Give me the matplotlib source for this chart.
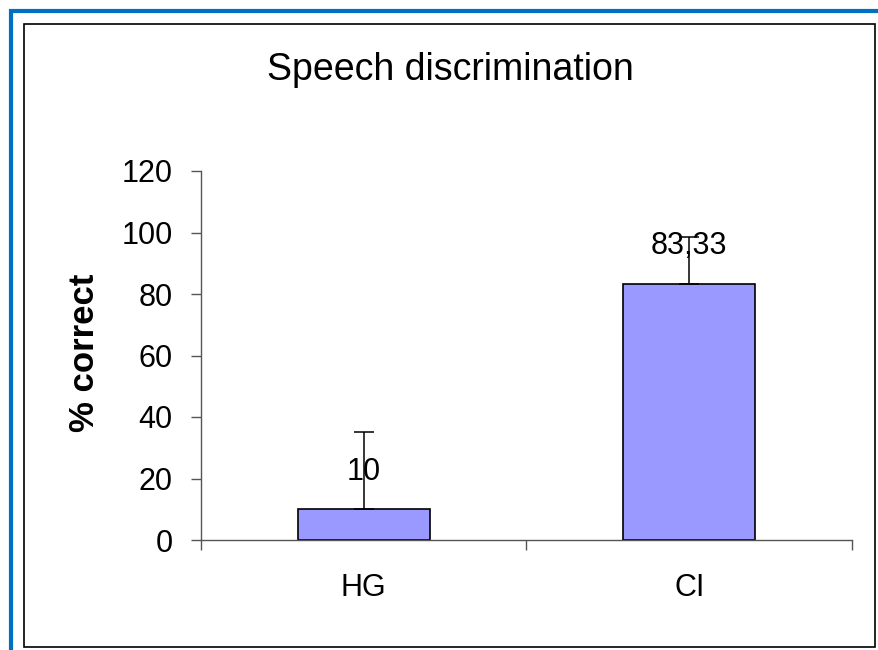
import matplotlib
matplotlib.use("Agg")
import matplotlib.pyplot as plt
from matplotlib.lines import Line2D
from matplotlib.patches import Rectangle

plt.rcParams['font.family'] = ['Liberation Sans', 'DejaVu Sans']

groups = ["HG", "CI"]
scores = [10, 83.33]
err_up = [25, 15.3]
value_labels = ["10", "83,33"]
title = "Speech discrimination"
y_label = "% correct"
y_ticks = [0, 20, 40, 60, 80, 100, 120]

W, H = 879, 650
fig = plt.figure(figsize=(W / 100, H / 100), dpi=100)

# frame: blue line top/left, black box inside
fig.add_artist(Line2D([11 / W, 11 / W, 1.0], [0.0, 1 - 11 / H, 1 - 11 / H],
                      transform=fig.transFigure, color="#0070C0", lw=3.0,
                      solid_joinstyle="miter"))
fig.add_artist(Rectangle((24.5 / W, 1 - 646.5 / H), (875.5 - 24.5) / W, (646.5 - 23.5) / H,
                         transform=fig.transFigure, fill=False, edgecolor="black", lw=1.2))

ax = fig.add_axes([201 / W, 1 - 540 / H, (852 - 201) / W, (540 - 171) / H])
x = list(range(len(groups)))
ax.bar(x, scores, width=0.405, color="#9999FF", edgecolor="black", linewidth=1.2, zorder=2)
ax.errorbar(x, scores, yerr=[[0] * len(err_up), err_up], fmt="none", ecolor="black",
            elinewidth=1.1, capsize=7, capthick=1.1, zorder=3)

for xi, v, lab in zip(x, scores, value_labels):
    ax.annotate(lab, (xi, v), xytext=(0, 27), textcoords="offset points",
                ha="center", va="center", fontsize=22, zorder=4)

ax.set_xlim(-0.5, len(groups) - 0.5)
ax.set_ylim(0, 120)
ax.set_yticks(y_ticks)
ax.set_yticklabels([str(t) for t in y_ticks])
ax.set_xticks([i - 0.5 for i in range(len(groups) + 1)])
ax.set_xticklabels([])
ax.set_xticks(x, minor=True)
ax.set_xticklabels(groups, minor=True)
ax.tick_params(axis="x", which="major", direction="out", length=7.5, width=1, color="#555555")
ax.tick_params(axis="x", which="minor", length=0, pad=24, labelsize=22)
ax.tick_params(axis="y", direction="out", length=7.5, width=1, color="#555555",
               pad=13, labelsize=22)

for s in ["top", "right"]:
    ax.spines[s].set_visible(False)
for s in ["left", "bottom"]:
    ax.spines[s].set_color("#555555")
    ax.spines[s].set_linewidth(1.0)

fig.text(84 / W, 1 - 353 / H, y_label, rotation=90, ha="center", va="center",
         fontsize=25, fontweight="bold")
fig.text(450 / W, 1 - 70 / H, title, ha="center", va="center", fontsize=27)

fig.savefig("out.png", dpi=100)
